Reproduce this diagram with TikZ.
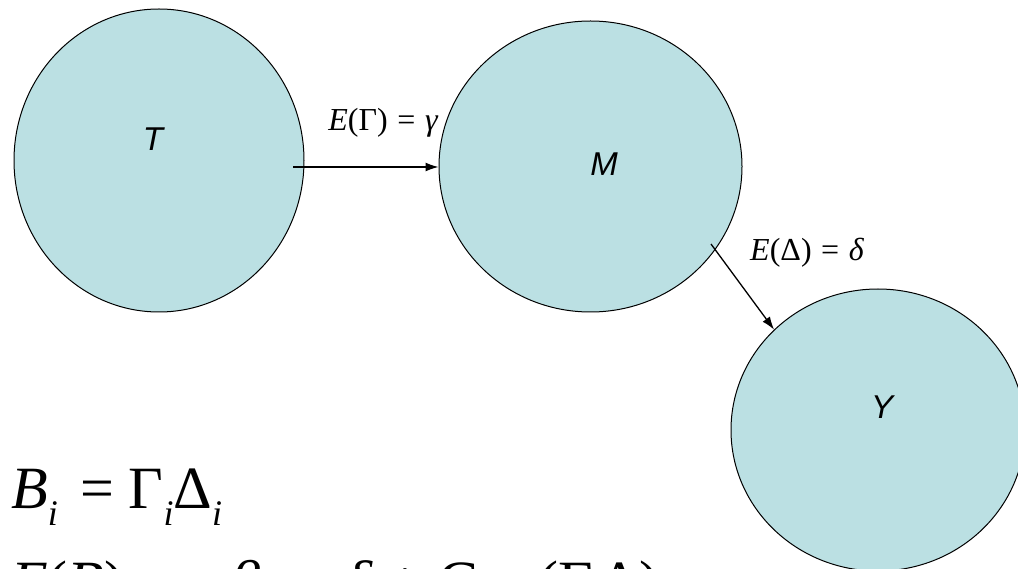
\documentclass[tikz,border=0pt]{standalone}
\usepackage{fontspec}
\setmainfont{Liberation Serif}
\newfontfamily\arialfont{Liberation Sans}
\usetikzlibrary{shapes.geometric,arrows.meta}
\definecolor{circfill}{RGB}{187,224,227}
\newcommand{\eqsp}{\hspace{0.3em}=\hspace{0.3em}}
\newcommand{\subi}{\raisebox{-0.29em}{\fontsize{36}{40}\selectfont\itshape i}}
\tikzset{
  circ/.style={ellipse, draw=black, line width=1pt, fill=circfill, inner sep=0pt},
  varlabel/.style={font=\arialfont\itshape\fontsize{33}{38}\selectfont, inner sep=0pt},
  eqlabel/.style={font=\fontsize{32}{38}\selectfont, inner sep=0pt},
  bigeq/.style={font=\fontsize{60}{72}\selectfont, inner sep=0pt, anchor=base west},
  conn/.style={line width=1.3pt, -{Latex[length=13pt,width=9pt]}}
}
\begin{document}
\begin{tikzpicture}[x=1pt,y=-1pt]
\clip (0,0) rectangle (1018,569);
\fill[white] (0,0) rectangle (1018,569);
% circles
\node[circ, minimum width=290pt, minimum height=303pt] (T) at (159,160.5) {};
\node[circ, minimum width=303pt, minimum height=291pt] (M) at (590.5,166.5) {};
\node[circ, minimum width=294pt, minimum height=282pt] (Y) at (878,430) {};
% variable labels
\node[varlabel] (Tl) at (153,139) {T};
\node[varlabel] (Ml) at (604,164.5) {M};
\node[varlabel] (Yl) at (882,407) {Y};
% connectors
\coordinate (a1) at (293,167);
\draw[conn] (a1) -- (a1 -| M.west);
\coordinate (a2) at (711,244);
\draw[conn] (a2) -- (Y.136);
% connector labels
\node[eqlabel] (g) at (383,123) {{\itshape E}(Γ)\eqsp{\itshape γ}};
\node[eqlabel] (d) at (807,253) {{\itshape E}(Δ)\eqsp{\itshape δ}};
% equations
\node[bigeq] (eq1) at (11,508) {{\itshape B}\subi\hspace{0.38em}=\hspace{0.24em}Γ\subi Δ\subi};
\node[bigeq] (eq2) at (11,602) {{\itshape E}({\itshape B})\hspace{0.6em}=\hspace{0.6em}{\itshape β}\hspace{0.22em}=\hspace{0.22em}{\itshape γδ}\hspace{0.27em}+\hspace{0.27em}Cov(Γ,Δ)};
\end{tikzpicture}
\end{document}
